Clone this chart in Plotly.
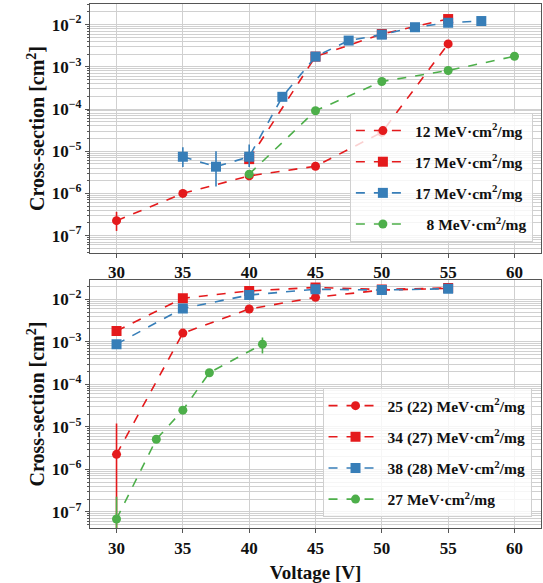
import plotly.graph_objects as go

# ---------------- data ----------------
# top panel
t1_x = [30, 35, 40, 45, 50, 55]
t1_y = [2.26e-7, 1.0e-6, 2.6e-6, 4.4e-6, 2.8e-5, 3.5e-3]
t1_ep = [1.4e-7, 0, 0, 0, 0, 0]
t1_em = [0.97e-7, 0, 0, 0, 0, 0]

t2_x = [40, 45, 50, 55]
t2_y = [6.5e-6, 1.75e-3, 6.0e-3, 1.36e-2]

t3_x = [35, 37.5, 40, 42.5, 45, 47.5, 50, 52.5, 55, 57.5]
t3_y = [7.4e-6, 4.3e-6, 7.4e-6, 1.95e-4, 1.75e-3, 4.2e-3, 5.8e-3, 8.7e-3, 1.11e-2, 1.22e-2]
t3_ep = [5.0e-6, 5.7e-6, 7.0e-6, 0, 0, 0, 0, 0, 0, 0]
t3_em = [3.2e-6, 2.84e-6, 3.2e-6, 0, 0, 0, 0, 0, 0, 0]

t4_x = [40, 45, 50, 55, 60]
t4_y = [2.86e-6, 9.1e-5, 4.5e-4, 8.2e-4, 1.78e-3]

# bottom panel
b1_x = [30, 35, 40, 45, 50, 55]
b1_y = [2.25e-6, 1.6e-3, 5.9e-3, 1.11e-2, 1.65e-2, 1.8e-2]
b1_ep = [9.75e-6, 0, 0, 0, 0, 0]
b1_em = [2.24e-6, 0, 0, 0, 0, 0]

b2_x = [30, 35, 40, 45, 50, 55]
b2_y = [1.8e-3, 1.06e-2, 1.57e-2, 1.9e-2, 1.7e-2, 1.85e-2]

b3_x = [30, 35, 40, 45, 50, 55]
b3_y = [8.8e-4, 6.1e-3, 1.26e-2, 1.72e-2, 1.65e-2, 1.77e-2]

b4_x = [30, 33, 35, 37, 41]
b4_y = [6.8e-8, 5.1e-6, 2.47e-5, 1.87e-4, 8.8e-4]
b4_ep = [1.6e-7, 0, 0, 0, 3.9e-4]
b4_em = [6.7e-8, 0, 0, 0, 3.5e-4]

top_names = ["12 MeV·cm<sup>2</sup>/mg", "17 MeV·cm<sup>2</sup>/mg",
             "17 MeV·cm<sup>2</sup>/mg", "\u2007\u00a08 MeV·cm<sup>2</sup>/mg"]
bot_names = ["25 (22) MeV·cm<sup>2</sup>/mg", "34 (27) MeV·cm<sup>2</sup>/mg",
             "38 (28) MeV·cm<sup>2</sup>/mg", "27 MeV·cm<sup>2</sup>/mg"]

x_ticks = [30, 35, 40, 45, 50, 55, 60]
y_exps = [-7, -6, -5, -4, -3, -2]
y_tickvals = [10.0 ** e for e in y_exps]
y_ticktext = ["<b>10<sup>\u2212%d</sup></b>" % (-e) for e in y_exps]

RED = "#e41a1c"
BLUE = "#377eb8"
GREEN = "#4daf4a"
FONT = "Liberation Serif"

fig = go.Figure()


def add(x, y, name, color, symbol, xa, ya, leg, grp, ep=None, em=None):
    err = None
    if ep is not None:
        err = dict(type="data", array=ep, arrayminus=em, color=color,
                   thickness=1.6, width=0, symmetric=False)
    fig.add_trace(go.Scatter(
        x=x, y=y, name="<b>" + name + "</b>", mode="lines+markers",
        line=dict(color=color, dash="dash", width=1.6),
        marker=dict(color=color, symbol=symbol, size=10 if symbol == "square" else 9),
        error_y=err, xaxis=xa, yaxis=ya, legend=leg, legendgroup=grp))


add(t1_x, t1_y, top_names[0], RED, "circle", "x", "y", "legend", "a1", t1_ep, t1_em)
add(t2_x, t2_y, top_names[1], RED, "square", "x", "y", "legend", "a2")
add(t3_x, t3_y, top_names[2], BLUE, "square", "x", "y", "legend", "a3", t3_ep, t3_em)
add(t4_x, t4_y, top_names[3], GREEN, "circle", "x", "y", "legend", "a4")

add(b1_x, b1_y, bot_names[0], RED, "circle", "x2", "y2", "legend2", "b1", b1_ep, b1_em)
add(b2_x, b2_y, bot_names[1], RED, "square", "x2", "y2", "legend2", "b2")
add(b3_x, b3_y, bot_names[2], BLUE, "square", "x2", "y2", "legend2", "b3")
add(b4_x, b4_y, bot_names[3], GREEN, "circle", "x2", "y2", "legend2", "b4", b4_ep, b4_em)

minor_vals = [m * 10.0 ** e for e in range(-9, 0) for m in range(2, 10)]
GRID = "#d0d0d0"
tickfont = dict(family=FONT, size=17, color="#111")

xcommon = dict(range=[28, 62], tickmode="array", tickvals=x_ticks,
               ticktext=["<b>%d</b>" % v for v in x_ticks],
               showgrid=True, gridcolor=GRID,
               gridwidth=1.2, showline=True, mirror=True, linecolor="#555",
               linewidth=1.2, ticks="outside", ticklen=4, tickcolor="#555",
               tickfont=tickfont, zeroline=False)
ycommon = dict(type="log", tickmode="array", tickvals=y_tickvals, ticktext=y_ticktext,
               showgrid=True,
               gridcolor=GRID, gridwidth=1.2, showline=True, mirror=True,
               linecolor="#555", linewidth=1.2, ticks="outside", ticklen=4,
               tickcolor="#555", tickfont=tickfont, zeroline=False,
               minor=dict(tickvals=minor_vals, showgrid=True, gridcolor=GRID,
                          gridwidth=1.0, ticks="outside", ticklen=2, tickcolor="#555"),
               title=dict(text="<b>Cross-section [cm<sup>2</sup>]</b>",
                          font=dict(family=FONT, size=20, color="#111"), standoff=1))

legcommon = dict(xanchor="right", yanchor="top",
                 bgcolor="rgba(255,255,255,0.8)", bordercolor="#d0d0d0", borderwidth=1,
                 font=dict(family=FONT, size=15.5, color="#111"), tracegroupgap=8,
                 itemwidth=54)

fig.update_layout(
    width=543, height=583,
    margin=dict(l=90, r=2, t=4, b=55),
    plot_bgcolor="white", paper_bgcolor="white",
    font=dict(family=FONT, color="#111"),
    xaxis=dict(xcommon, domain=[0, 1], anchor="y"),
    xaxis2=dict(xcommon, domain=[0, 1], anchor="y2",
                title=dict(text="<b>Voltage [V]</b>",
                           font=dict(family=FONT, size=19, color="#111"), standoff=9)),
    yaxis=dict(ycommon, domain=[0.525, 1.0], anchor="x", range=[-7.41, -1.51]),
    yaxis2=dict(ycommon, domain=[0.0, 0.473], anchor="x2", range=[-7.38, -1.55]),
    legend=dict(legcommon, x=0.982, y=0.792),
    legend2=dict(legcommon, x=0.979, y=0.267),
)

fig.write_html("out.html")
